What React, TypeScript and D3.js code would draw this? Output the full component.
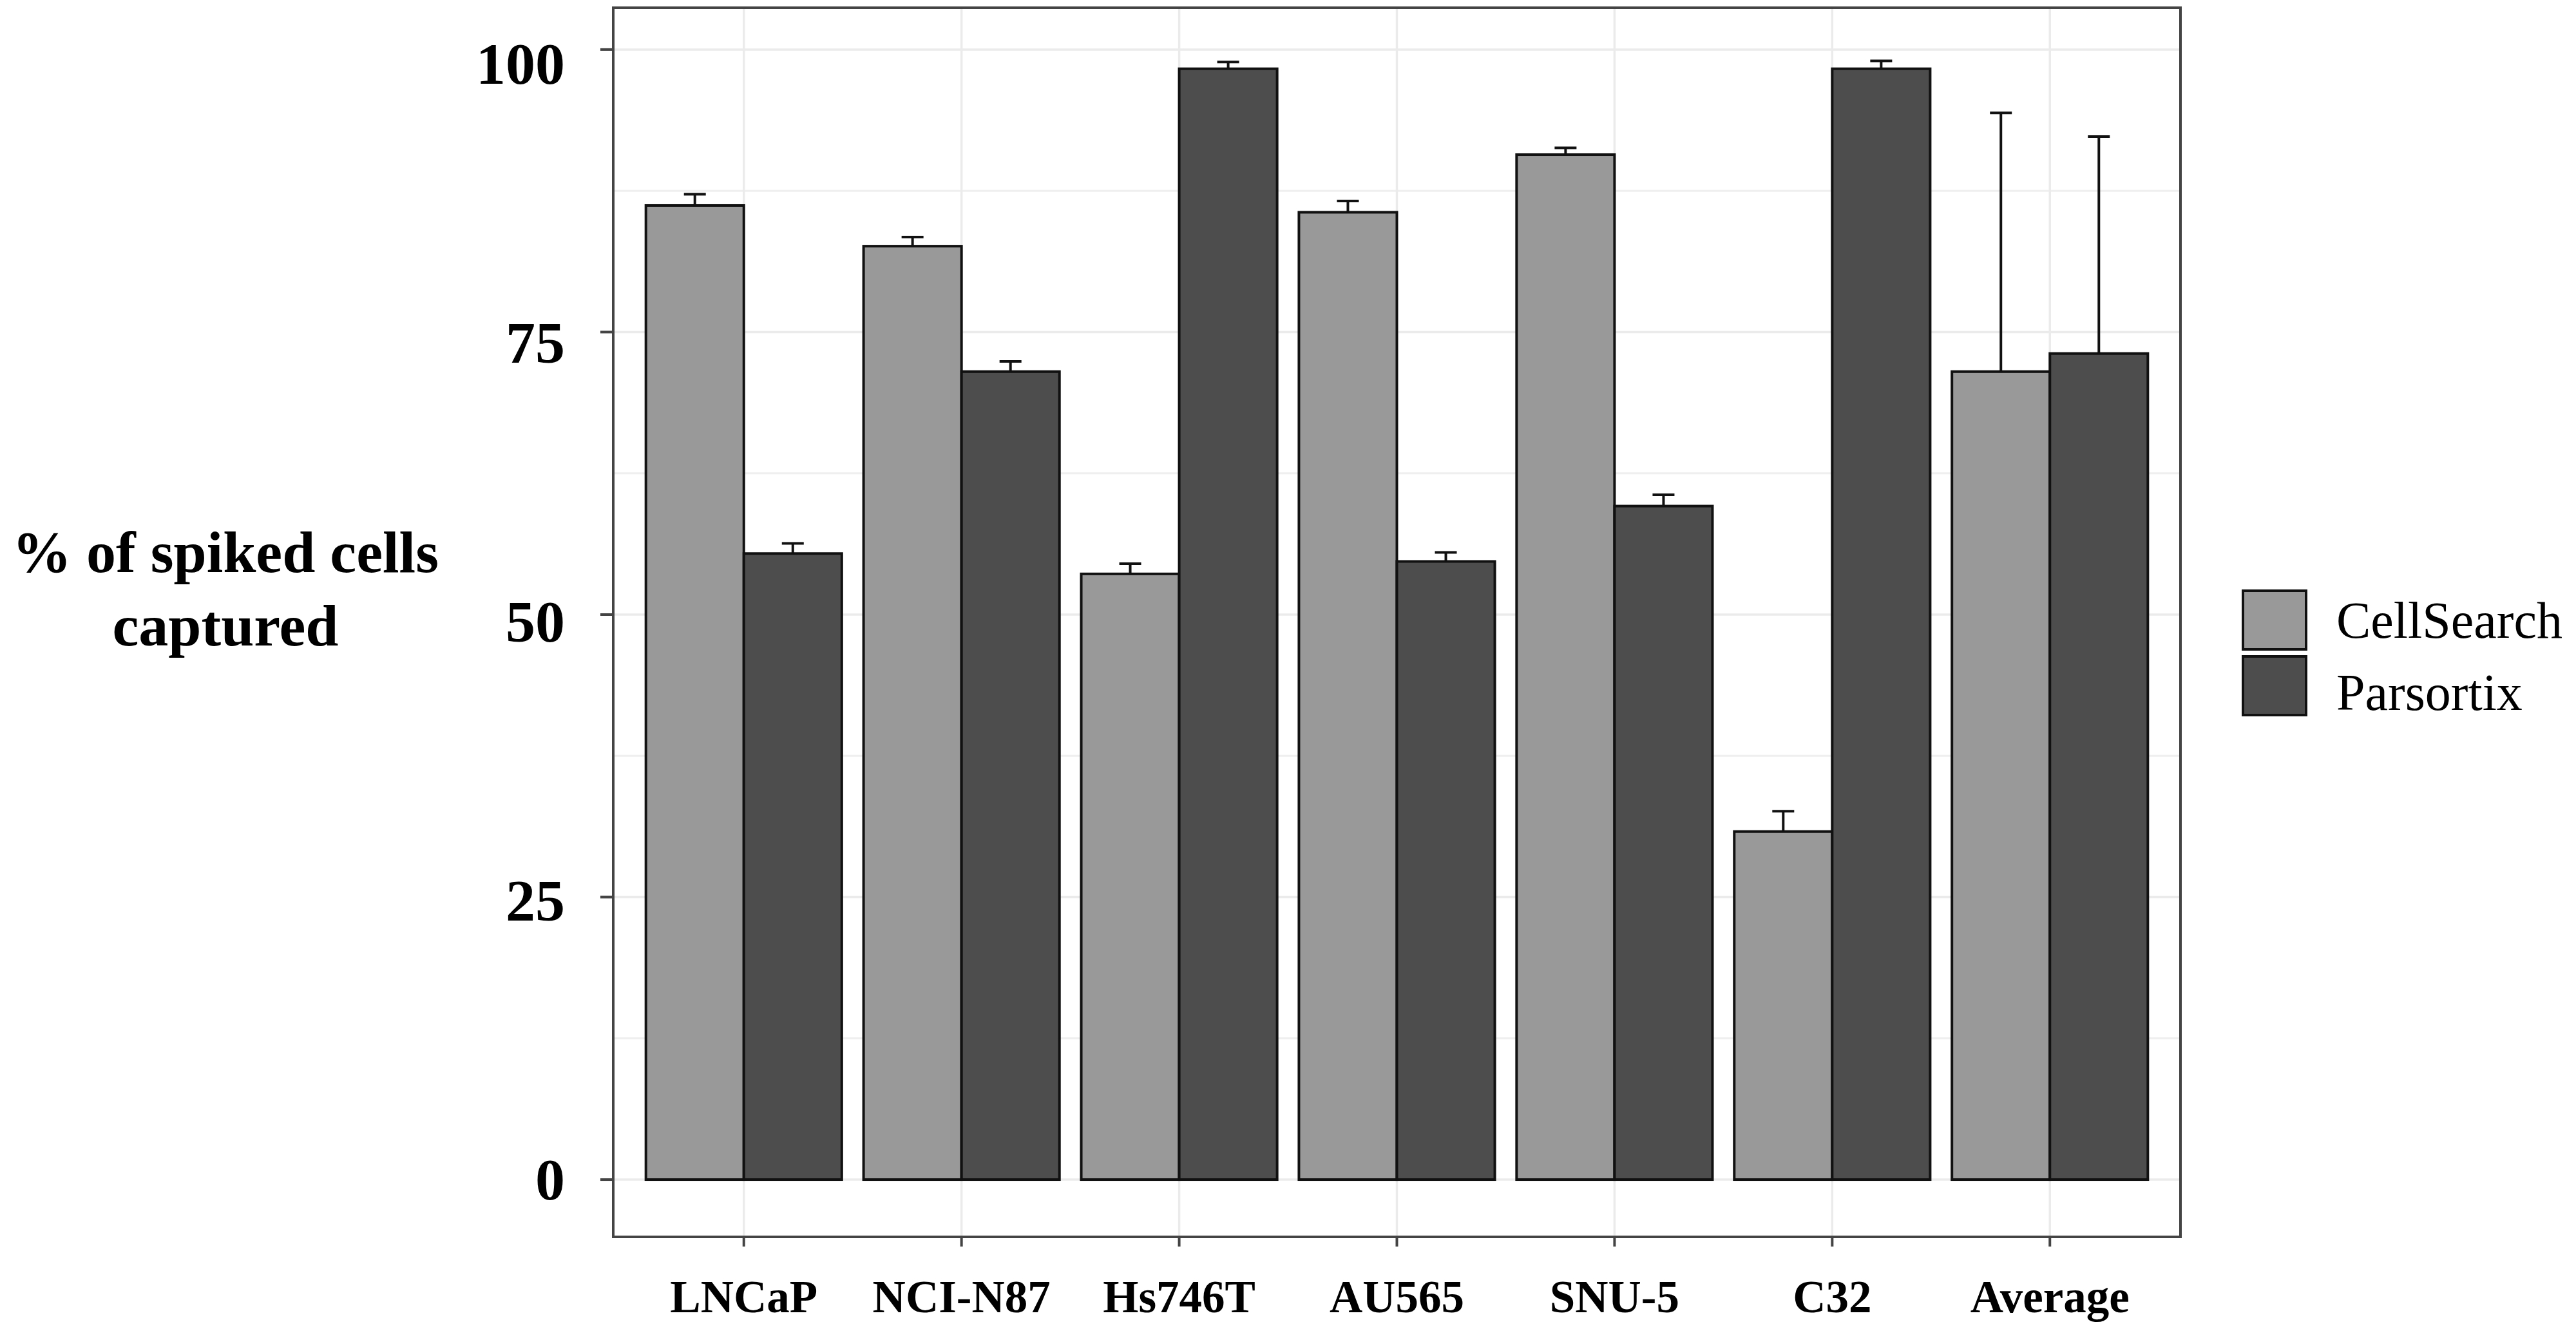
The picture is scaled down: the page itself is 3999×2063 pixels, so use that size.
import React from "react";
import * as d3 from "d3";

const categories = ["LNCaP", "NCI-N87", "Hs746T", "AU565", "SNU-5", "C32", "Average"];
const seriesNames = ["CellSearch", "Parsortix"];
const cellSearch = [86.2, 82.6, 53.6, 85.6, 90.7, 30.8, 71.5];
const cellSearchErr = [1.0, 0.8, 0.9, 1.0, 0.6, 1.8, 22.9];
const parsortix = [55.4, 71.5, 98.3, 54.7, 59.6, 98.3, 73.1];
const parsortixErr = [0.9, 0.9, 0.6, 0.8, 1.0, 0.7, 19.2];
const yTicks = [0, 25, 50, 75, 100];
const yMinor = [12.5, 37.5, 62.5, 87.5];
const colors = ["#999999", "#4d4d4d"];

const W = 3999;
const H = 2063;
const L = 952, R = 3385, T = 12, B = 1920;

export default function App() {
  const x = d3.scalePoint<string>().domain(categories).range([L, R]).padding(0.6);
  const step = x.step();
  const sub = d3.scaleBand<string>().domain(seriesNames).range([-0.45 * step, 0.45 * step]).paddingInner(0);
  const y = d3.scaleLinear().domain([-5.07, 103.7]).range([B, T]);
  const yLab = d3.scaleLinear().domain([0, 100]).range([1831, 99]);

  const values = [cellSearch, parsortix];
  const errs = [cellSearchErr, parsortixErr];
  const capW = 34;
  const serif = "'Liberation Serif', 'Times New Roman', serif";

  return (
    <svg width={W} height={H} style={{ position: "absolute", left: 0, top: 0, background: "#fff" }}>
      <rect x={0} y={0} width={W} height={H} fill="#fff" />
      {/* gridlines */}
      {yMinor.map((v) => (
        <line key={"mi" + v} x1={L} x2={R} y1={y(v)} y2={y(v)} stroke="#efefef" strokeWidth={3} />
      ))}
      {yTicks.map((v) => (
        <line key={"ma" + v} x1={L} x2={R} y1={y(v)} y2={y(v)} stroke="#ebebeb" strokeWidth={3.5} />
      ))}
      {categories.map((c) => (
        <line key={"vx" + c} x1={x(c)} x2={x(c)} y1={T} y2={B} stroke="#ebebeb" strokeWidth={3.5} />
      ))}
      {/* bars */}
      {categories.map((c, i) =>
        seriesNames.map((s, j) => {
          const x0 = (x(c) as number) + (sub(s) as number);
          const bw = sub.bandwidth();
          const v = values[j][i];
          return (
            <rect key={c + s} x={x0} y={y(v)} width={bw} height={y(0) - y(v)}
              fill={colors[j]} stroke="#111" strokeWidth={4} />
          );
        })
      )}
      {/* error bars (upper) */}
      {categories.map((c, i) =>
        seriesNames.map((s, j) => {
          const cx = (x(c) as number) + (sub(s) as number) + sub.bandwidth() / 2;
          const v = values[j][i];
          const top = v + errs[j][i];
          return (
            <g key={"e" + c + s} stroke="#111" strokeWidth={4}>
              <line x1={cx} x2={cx} y1={y(v)} y2={y(top)} />
              <line x1={cx - capW / 2} x2={cx + capW / 2} y1={y(top)} y2={y(top)} />
            </g>
          );
        })
      )}
      {/* panel border */}
      <rect x={L} y={T} width={R - L} height={B - T} fill="none" stroke="#444" strokeWidth={4} />
      {/* y ticks */}
      {yTicks.map((v) => (
        <g key={"yt" + v}>
          <line x1={L - 20} x2={L} y1={y(v)} y2={y(v)} stroke="#444" strokeWidth={4} />
          <text x={877} y={yLab(v) + 0.338 * 92} textAnchor="end" fontFamily={serif}
            fontWeight="bold" fontSize={92} fill="#000">{v}</text>
        </g>
      ))}
      {/* x ticks */}
      {categories.map((c) => (
        <g key={"xt" + c}>
          <line x1={x(c)} x2={x(c)} y1={B} y2={B + 15} stroke="#444" strokeWidth={4} />
          <text x={x(c)} y={2037} textAnchor="middle" fontFamily={serif} fontWeight="bold"
            fontSize={71} fill="#000">{c}</text>
        </g>
      ))}
      {/* y title */}
      <text textAnchor="middle" fontFamily={serif} fontWeight="bold" fontSize={92} fill="#000">
        <tspan x={350} y={888}>% of spiked cells</tspan>
        <tspan x={350} y={1002}>captured</tspan>
      </text>
      {/* legend */}
      {seriesNames.map((s, j) => (
        <g key={"lg" + s}>
          <rect x={3482} y={917 + j * 102} width={98} height={91} fill={colors[j]} stroke="#111" strokeWidth={4} />
          <text x={3627} y={990 + j * 112} fontFamily={serif} fontSize={80} fill="#000">{s}</text>
        </g>
      ))}
    </svg>
  );
}
